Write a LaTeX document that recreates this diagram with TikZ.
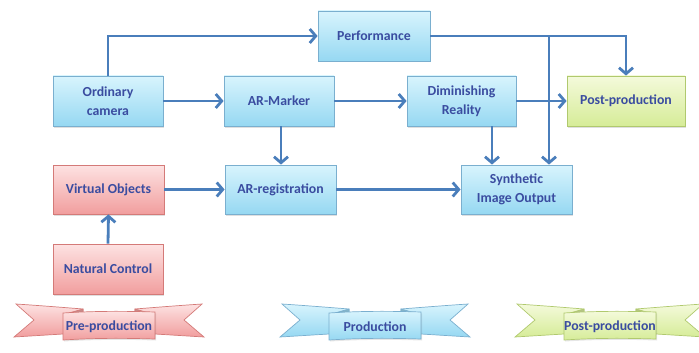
\documentclass[tikz,border=0pt]{standalone}
\usepackage{fontspec}
\setmainfont{Carlito}
\usetikzlibrary{arrows.meta,shadows}
\definecolor{txtc}{HTML}{3A4CA0}
\definecolor{arrowc}{HTML}{4A7EBB}
\definecolor{bluetop}{HTML}{D8F4FD}
\definecolor{bluebot}{HTML}{96D8F2}
\definecolor{blueline}{HTML}{7AAFCF}
\definecolor{redtop}{HTML}{FDE2E2}
\definecolor{redbot}{HTML}{F19E9E}
\definecolor{redline}{HTML}{D47A78}
\definecolor{greentop}{HTML}{F4FADB}
\definecolor{greenbot}{HTML}{D6EC98}
\definecolor{greenline}{HTML}{B0C96E}
\tikzset{
  boxbase/.style={rectangle, line width=0.8pt, align=center, text=txtc,
    font=\fontsize{13.8}{19}\selectfont\bfseries, inner sep=0pt,
    drop shadow={shadow xshift=1pt, shadow yshift=-1.5pt, opacity=0.25}},
  bluebox/.style={boxbase, draw=blueline, top color=bluetop, bottom color=bluebot},
  redbox/.style={boxbase, draw=redline, top color=redtop, bottom color=redbot},
  greenbox/.style={boxbase, draw=greenline, top color=greentop, bottom color=greenbot},
  bluepart/.style={draw=blueline, line width=0.7pt, top color=bluetop, bottom color=bluebot},
  redpart/.style={draw=redline, line width=0.7pt, top color=redtop, bottom color=redbot},
  greenpart/.style={draw=greenline, line width=0.7pt, top color=greentop, bottom color=greenbot},
  bluefold/.style={draw=blueline, line width=0.7pt, fill=bluebot!80!black!90},
  redfold/.style={draw=redline, line width=0.7pt, fill=redbot!80!black!90},
  greenfold/.style={draw=greenline, line width=0.7pt, fill=greenbot!80!black!90},
  ribtext/.style={text=txtc, font=\fontsize{13.8}{16}\selectfont\bfseries, inner sep=0pt},
  conn/.style={draw=arrowc, line width=2.8pt, -{Straight Barb[length=6pt,width=14pt]}}
}
\newcommand{\ribbonat}[4]{%
  \begin{scope}[shift={(#1,0)}]
    % left wing
    \path[#2part] (-93,304) .. controls (-70,305.5) and (-45,307.5) .. (-26,309)
      -- (-26,332) -- (-46,334) .. controls (-70,335) .. (-95,337) -- (-75,320) -- cycle;
    % right wing
    \path[#2part] (93,304) .. controls (70,305.5) and (45,307.5) .. (26,309)
      -- (26,332) -- (46,334) .. controls (70,335) .. (95,337) -- (75,320) -- cycle;
    % folds
    \path[#2fold] (-26,309) -- (-26,315) -- (-40,313) -- cycle;
    \path[#2fold] (26,309) -- (26,315) -- (40,313) -- cycle;
    % centre piece
    \path[#2part, drop shadow={shadow xshift=1pt, shadow yshift=-1.5pt, opacity=0.2}]
      (-46,313) .. controls (-15,311) and (15,311) .. (46,312)
      -- (46,339) .. controls (15,338) and (-15,338) .. (-46,340) -- cycle;
    \node[ribtext] (#4) at (0,327) {#3};
  \end{scope}}
\begin{document}
\begin{tikzpicture}[x=1pt,y=-1pt]
\useasboundingbox (0,0) rectangle (699,353);

% ribbons
\ribbonat{109}{red}{Pre-production}{rpre}
\ribbonat{375}{blue}{Production}{rprod}
\ribbonat{610}{green}{Post-production}{rpost}

% boxes
\node[bluebox, minimum width=112pt, minimum height=50pt] (perf) at (374,36) {Performance};
\node[bluebox, minimum width=110pt, minimum height=50pt] (cam) at (108,101) {Ordinary\\camera};
\node[bluebox, minimum width=110pt, minimum height=50pt] (arm) at (279,101) {AR-Marker};
\node[bluebox, minimum width=109pt, minimum height=50pt] (dim) at (461.5,101) {Diminishing\\Reality};
\node[greenbox, minimum width=118pt, minimum height=50pt] (post) at (626,101) {Post-production};
\node[redbox, minimum width=111pt, minimum height=49pt] (vo) at (108.5,189.5) {Virtual Objects};
\node[bluebox, minimum width=111pt, minimum height=49pt] (arr) at (280.5,189.5) {AR-registration};
\node[redbox, minimum width=110pt, minimum height=50pt] (nc) at (108,269) {Natural Control};
\node[bluebox, minimum width=111pt, minimum height=49pt] (syn) at (516.5,189.5) {Synthetic\\Image Output};

\coordinate (br) at (549,36);

% connectors
\draw[conn] (cam.north) |- (perf.west);
\draw[conn] (cam.east) -- (arm.west);
\draw[conn] (arm.east) -- (dim.west);
\draw[conn] (dim.east) -- (post.west);
\draw[conn] (perf.east) -| (post.north);
\draw[conn] (br) -- (br |- syn.north);
\draw[conn] ([xshift=30.5pt]dim.south) -- ([xshift=30.5pt]dim.south |- syn.north);
\draw[conn] ([xshift=2pt]arm.south) -- ([xshift=2pt]arm.south |- arr.north);
\draw[conn] (vo.east) -- (arr.west);
\draw[conn] (arr.east) -- (syn.west);
\draw[conn] (nc.north) -- (vo.south);
\end{tikzpicture}
\end{document}
